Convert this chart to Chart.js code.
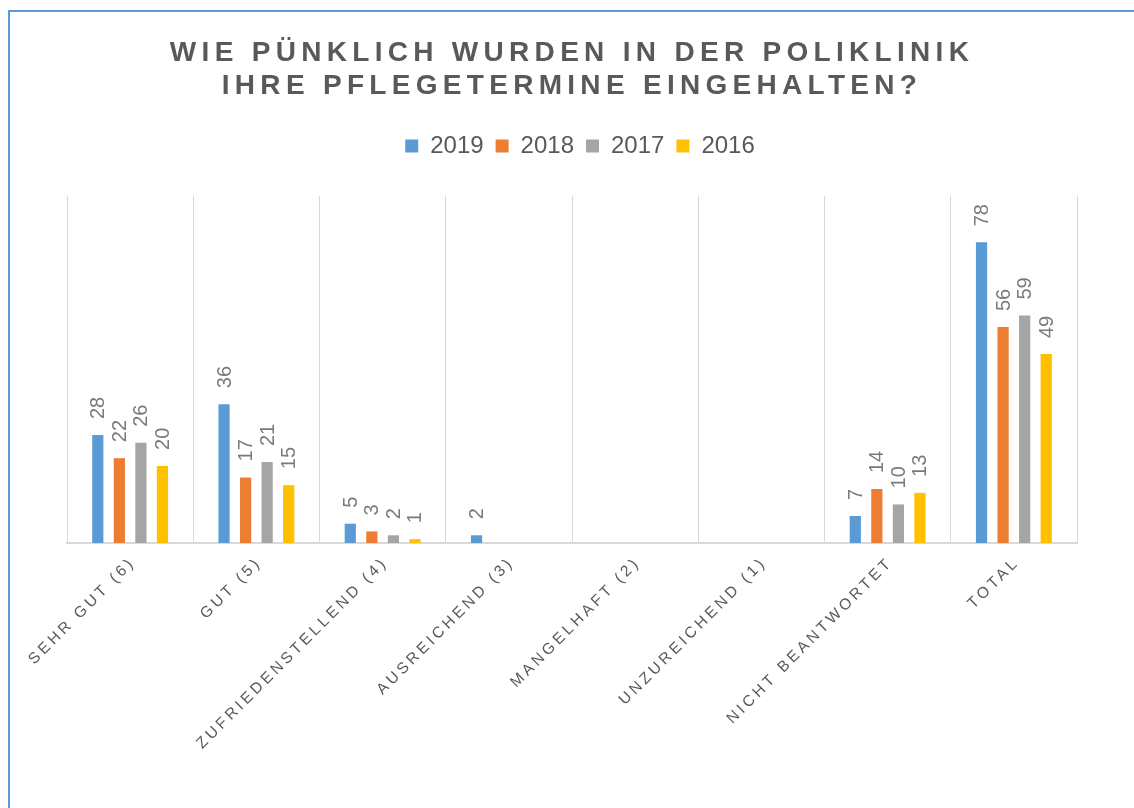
<!DOCTYPE html>
<html>
<head>
<meta charset="utf-8">
<script src="https://cdn.jsdelivr.net/npm/chart.js@4"></script>
<style>
  body { margin: 0; background: #fff; overflow: hidden; }
  #frame { position: absolute; left: 8px; top: 10px; width: 1200px; height: 900px;
           border-left: 2px solid #5b9bd5; border-top: 2px solid #5b9bd5; }
  #poliklinik { position: absolute; left: 0; top: 0; }
</style>
</head>
<body>
<div id="frame"></div>
<canvas id="poliklinik" width="1134" height="808"></canvas>
<script>
// data
const categories = ['SEHR GUT (6)', 'GUT (5)', 'ZUFRIEDENSTELLEND (4)', 'AUSREICHEND (3)',
  'MANGELHAFT (2)', 'UNZUREICHEND (1)', 'NICHT BEANTWORTET', 'TOTAL'];
const years = ['2019', '2018', '2017', '2016'];
const values2019 = [28, 36, 5, 2, null, null, 7, 78];
const values2018 = [22, 17, 3, null, null, null, 14, 56];
const values2017 = [26, 21, 2, null, null, null, 10, 59];
const values2016 = [20, 15, 1, null, null, null, 13, 49];
const yearColors = ['#5b9bd5', '#ed7d31', '#a5a5a5', '#ffc000'];
const titleLines = ['WIE PÜNKLICH WURDEN IN DER POLIKLINIK', 'IHRE PFLEGETERMINE EINGEHALTEN?'];

const fontFamily = '"Liberation Sans", Arial, sans-serif';
Chart.defaults.font.family = fontFamily;

var data = {
  labels: categories,
  datasets: [values2019, values2018, values2017, values2016].map((vals, i) => ({
    label: years[i],
    data: vals,
    backgroundColor: yearColors[i],
    borderWidth: 0,
    categoryPercentage: 0.683,
    barPercentage: 0.52,
  }))
};

// spaced title, drawn by hand because of the letter spacing
var titleText = {
  id: 'titleText',
  beforeDraw(chart) {
    const ctx = chart.ctx;
    ctx.save();
    ctx.font = `bold 28px ${fontFamily}`;
    ctx.letterSpacing = '5.3px';
    ctx.fillStyle = '#595959';
    ctx.textAlign = 'center';
    ctx.textBaseline = 'middle';
    titleLines.forEach((line, i) => {
      ctx.fillText(line, chart.width / 2 + 5, 53 + i * 33);
    });
    ctx.restore();
  }
};

// rotated, spaced category labels under the axis
var tickText = {
  id: 'tickText',
  afterDraw(chart) {
    const { ctx, chartArea } = chart;
    const xs = chart.scales.x;
    ctx.save();
    ctx.font = `15.5px ${fontFamily}`;
    ctx.letterSpacing = '3.4px';
    ctx.fillStyle = '#595959';
    ctx.textAlign = 'right';
    ctx.textBaseline = 'middle';
    categories.forEach((c, i) => {
      ctx.save();
      ctx.translate(xs.getPixelForTick(i) + 3, chartArea.bottom + 17);
      ctx.rotate(-Math.PI / 4);
      ctx.fillText(c, 0, 0);
      ctx.restore();
    });
    ctx.restore();
  }
};

// value labels standing on top of the bars
var valueText = {
  id: 'valueText',
  afterDatasetsDraw(chart) {
    const ctx = chart.ctx;
    ctx.save();
    ctx.font = `20px ${fontFamily}`;
    ctx.fillStyle = '#7a7a7a';
    ctx.textAlign = 'left';
    ctx.textBaseline = 'middle';
    chart.data.datasets.forEach((ds, d) => {
      chart.getDatasetMeta(d).data.forEach((bar, i) => {
        const v = ds.data[i];
        if (v == null) return;
        ctx.save();
        ctx.translate(bar.x + 1, bar.y - 16);
        ctx.rotate(-Math.PI / 2);
        ctx.fillText(String(v), 0, 0);
        ctx.restore();
      });
    });
    ctx.restore();
  }
};

// more room under the legend, legend nudged right
var legendRoom = {
  id: 'legendRoom',
  beforeInit(chart) {
    const legend = chart.legend;
    if (!legend) return;
    const fit = legend.fit;
    legend.fit = function () { fit.call(this); this.height += 29; };
    const draw = legend.draw;
    legend.draw = function () {
      const ctx = this.ctx;
      ctx.save();
      ctx.translate(8, 1);
      draw.call(this);
      ctx.restore();
    };
  }
};

const poliklinikConfig = {
  type: 'bar',
  data,
  options: {
    responsive: false,
    animation: false,
    layout: { padding: { top: 121, left: 67, right: 57, bottom: 265 } },
    plugins: {
      legend: {
        position: 'top',
        labels: {
          boxWidth: 13,
          boxHeight: 13,
          padding: 12,
          color: '#595959',
          font: { size: 24 }
        }
      },
      title: { display: false },
      tooltip: { enabled: false }
    },
    scales: {
      x: {
        grid: { color: '#d9d9d9', lineWidth: 1, drawTicks: false, offset: true },
        border: { color: '#d9d9d9', width: 2 },
        ticks: { display: false }
      },
      y: { display: false, min: 0, max: 90 }
    }
  },
  plugins: [legendRoom, titleText, valueText, tickText]
};

const poliklinikChart = new Chart(
  document.getElementById('poliklinik'),
  poliklinikConfig
);
</script>
</body>
</html>
